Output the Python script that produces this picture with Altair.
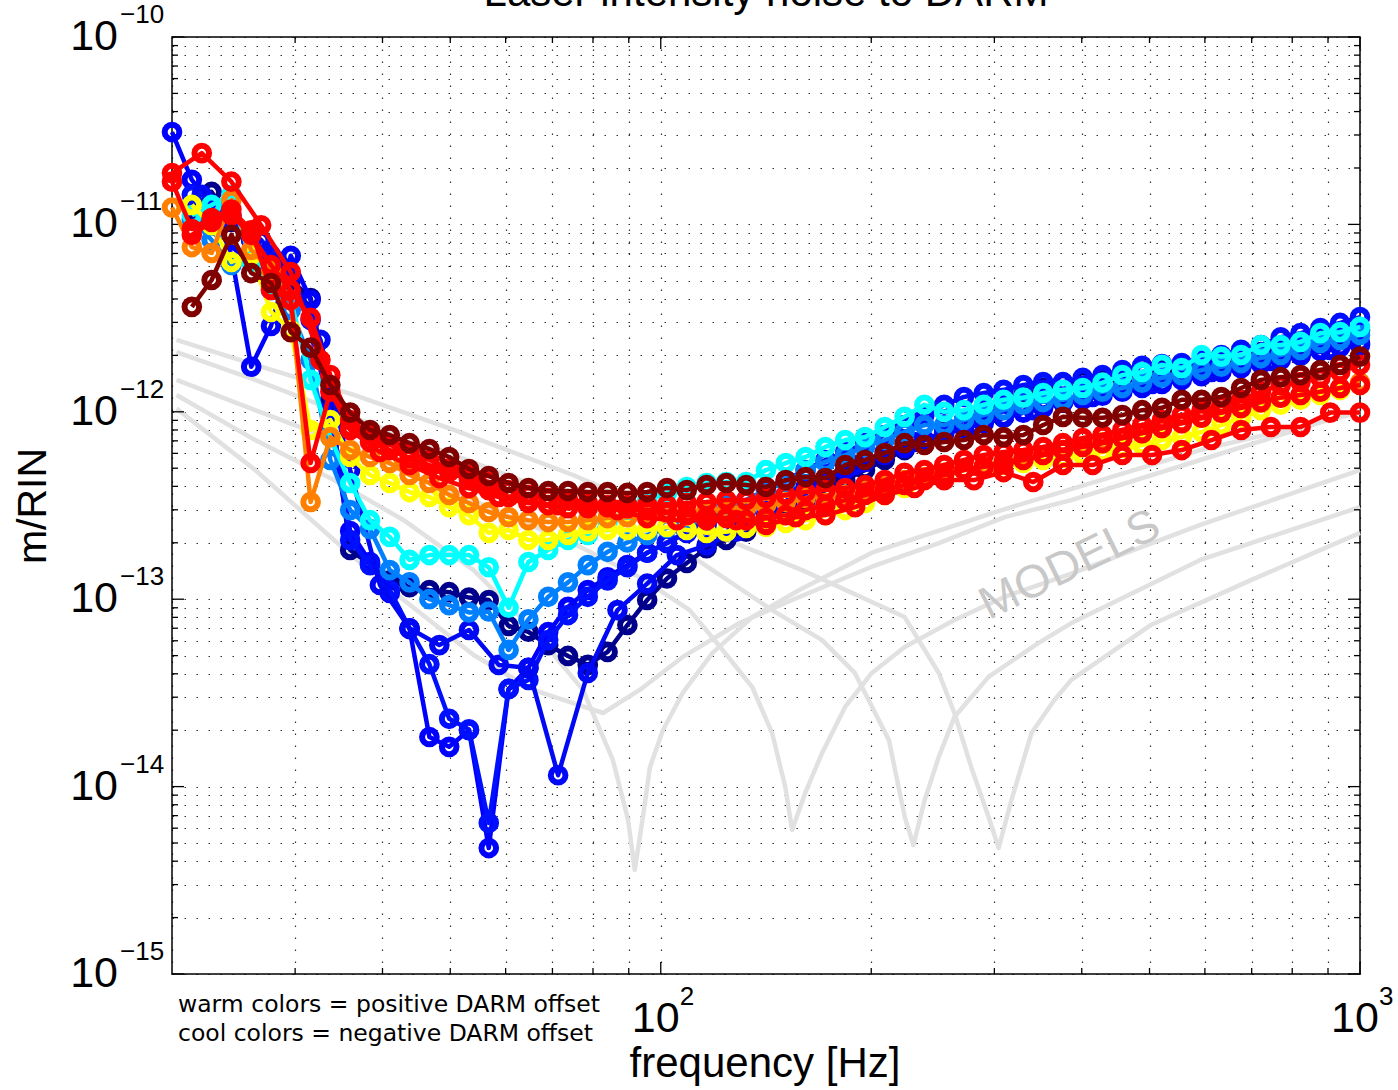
import altair as alt
import pandas as pd

# ---------------- data ----------------
FREQ_A = [20.00, 21.35, 22.79, 24.32, 25.96, 27.71, 29.57, 31.57, 33.69, 35.96,
          38.39, 40.97, 43.73, 46.68, 49.82, 53.18, 56.76, 60.59, 64.67, 69.03,
          73.68, 78.64, 83.94, 89.59, 95.63, 102.07, 108.95, 116.29, 124.12, 132.48,
          141.42, 150.95, 161.11, 171.96, 183.55, 195.91, 209.11, 223.20, 238.23, 254.28,
          271.41, 289.69, 309.21, 330.04, 352.27, 376.00, 401.33, 428.37, 457.22, 488.02,
          520.90, 555.99, 593.44, 633.42, 676.09, 721.63, 770.25, 822.13, 877.51, 936.63, 1000.0]

FREQ_B = [20.00, 22.06, 24.32, 26.82, 29.57, 32.61, 35.96, 39.66, 43.73, 48.23,
          53.18, 58.65, 64.67, 71.32, 78.64, 86.72, 95.63, 105.46, 116.29, 128.24,
          141.42, 155.95, 171.96, 189.63, 209.11, 230.60, 254.28, 280.41, 309.21, 340.98,
          376.01, 414.64, 457.24, 504.22, 556.03, 613.16, 676.16, 745.63, 822.24, 906.72, 1000.0]

NV = [None, 1.2e-11, 1.49e-11, 1.03e-11, 8.25e-12, 6.3e-12, 5.05e-12, 4.05e-12, 1.16e-12, 1.83e-13,
      1.54e-13, 1.26e-13, 1.16e-13, 1.12e-13, 1.09e-13, 1.02e-13, 9.9e-14, 7.2e-14, 6.7e-14, 5.69e-14,
      4.98e-14, 4.46e-14, 5.23e-14, 7.28e-14, 9.9e-14, 1.29e-13, 1.56e-13, 1.87e-13, 2.07e-13, 2.29e-13,
      2.58e-13, 2.92e-13, 3.38e-13, 3.82e-13, 4.32e-13, 4.89e-13, 5.53e-13, 6.25e-13, 7.07e-13, 7.8e-13,
      9.04e-13, 1.02e-12, 1.13e-12, 1.23e-12, 1.34e-12, 1.43e-12, 1.48e-12, 1.48e-12, 1.52e-12, 1.63e-12,
      1.67e-12, 1.71e-12, 1.78e-12, 1.89e-12, 2.01e-12, 2.08e-12, 2.19e-12, 2.27e-12, 2.42e-12, 2.57e-12,
      2.73e-12]

B1 = [3.11e-11, 1.73e-11, 1.27e-11, 6.87e-12, 1.74e-12, 2.87e-12, 6.8e-12, 3.95e-12, 1.02e-12, 2.31e-13,
      1.58e-13, 1.08e-13, 6.93e-14, 1.84e-14, 1.63e-14, 2.0e-14, 4.7e-15, 3.32e-14, 4.3e-14, 6.68e-14,
      9.1e-14, 1.12e-13, 1.31e-13, 1.52e-13, 1.77e-13, 1.99e-13, 2.26e-13, 2.49e-13, 2.74e-13, 2.99e-13,
      3.26e-13, 3.6e-13, 3.97e-13, 4.43e-13, 4.89e-13, 5.4e-13, 5.88e-13, 6.41e-13, 7.07e-13, 7.7e-13,
      8.2e-13, 8.7e-13, 9.3e-13, 9.9e-13, 1.05e-12, 1.12e-12, 1.16e-12, 1.22e-12, 1.28e-12, 1.34e-12,
      1.41e-12, 1.48e-12, 1.55e-12, 1.63e-12, 1.71e-12, 1.8e-12, 1.89e-12, 2.01e-12, 2.11e-12, 2.21e-12,
      2.33e-12]

B2 = [None, 1.44e-11, 1.12e-11, 1.06e-11, 8.25e-12, 6.87e-12, 5.37e-12, 3.09e-12, 9.04e-13, 2.07e-13,
      1.52e-13, 1.12e-13, 7.0e-14, 4.5e-14, 2.3e-14, 2.02e-14, 6.4e-15, 3.32e-14, 3.71e-14, 6.05e-14,
      8.23e-14, 1.03e-13, 1.26e-13, 1.48e-13, 1.77e-13, 2.01e-13, 2.29e-13, 2.64e-13, 2.99e-13, 3.38e-13,
      3.82e-13, 4.32e-13, 4.89e-13, 5.53e-13, 6.1e-13, 6.8e-13, 7.52e-13, 8.5e-13, 9.6e-13, 1.09e-12,
      1.2e-12, 1.26e-12, 1.31e-12, 1.39e-12, 1.44e-12, 1.44e-12, 1.52e-12, 1.57e-12, 1.67e-12, 1.76e-12,
      1.8e-12, 1.82e-12, 1.89e-12, 2.01e-12, 2.14e-12, 2.27e-12, 2.5e-12, 2.63e-12, 2.8e-12, 2.98e-12,
      3.2e-12]

BC = [None, 1.44e-11, 1.12e-11, 8.25e-12, 5.37e-12, 2.42e-12, 4.89e-13, 1.19e-13, 7.0e-14, 5.69e-14,
      6.85e-14, 4.46e-14, 4.3e-14, 1.15e-14, 4.04e-14, 8.75e-14, 1.21e-13, 1.72e-13, 1.94e-13, 2.29e-13,
      2.81e-13, 3.51e-13, 4.32e-13, 5.2e-13, 6.1e-13, 6.9e-13, 7.7e-13, 8.5e-13, 9.3e-13, 1.02e-12,
      1.12e-12, 1.2e-12, 1.31e-12, 1.41e-12, 1.52e-12, 1.63e-12, 1.76e-12, 1.87e-12, 1.99e-12, 2.14e-12,
      2.27e-12]

AZ = [None, 1.06e-11, 8.25e-12, 6.07e-12, 6.87e-12, 4.47e-12, 3.5e-12, 1.89e-12, 5.53e-13, 2.99e-13,
      2.37e-13, 1.43e-13, 1.23e-13, 1.0e-13, 9.3e-14, 8.5e-14, 8.6e-14, 5.36e-14, 7.8e-14, 1.03e-13,
      1.23e-13, 1.52e-13, 1.79e-13, 2.01e-13, 2.2e-13, 2.4e-13, 2.64e-13, 2.92e-13, 3.18e-13, 3.38e-13,
      3.82e-13, 4.22e-13, 4.89e-13, 5.4e-13, 5.88e-13, 6.49e-13, 7.07e-13, 7.8e-13, 8.5e-13, 8.5e-13,
      9.04e-13, 9.6e-13, 1.02e-12, 1.09e-12, 1.13e-12, 1.16e-12, 1.23e-12, 1.28e-12, 1.34e-12, 1.43e-12,
      1.52e-12, 1.57e-12, 1.67e-12, 1.74e-12, 1.82e-12, 1.94e-12, 2.01e-12, 2.14e-12, 2.33e-12, 2.42e-12,
      2.57e-12]

CY = [None, 1.12e-11, 1.27e-11, 1.44e-11, 6.3e-12, 4.75e-12, 3.95e-12, 1.48e-12, 7.33e-13, 4.17e-13,
      2.64e-13, 2.15e-13, 1.62e-13, 1.72e-13, 1.72e-13, 1.72e-13, 1.48e-13, 9.0e-14, 1.58e-13, 1.83e-13,
      2.07e-13, 2.2e-13, 2.58e-13, 2.99e-13, 3.38e-13, 3.69e-13, 3.97e-13, 4.17e-13, 4.22e-13, 4.22e-13,
      4.89e-13, 5.33e-13, 5.74e-13, 6.49e-13, 7.07e-13, 7.33e-13, 8.3e-13, 9.4e-13, 1.09e-12, 1.0e-12,
      1.02e-12, 1.09e-12, 1.16e-12, 1.19e-12, 1.26e-12, 1.31e-12, 1.34e-12, 1.43e-12, 1.57e-12, 1.63e-12,
      1.78e-12, 1.71e-12, 2.01e-12, 1.97e-12, 2.01e-12, 2.27e-12, 2.27e-12, 2.36e-12, 2.63e-12, 2.66e-12,
      2.84e-12]

YE = [None, 1.27e-11, 9.9e-12, 6.3e-12, 6.87e-12, 3.41e-12, 2.73e-12, 8.0e-13, 9.04e-13, 5.74e-13,
      4.6e-13, 4.17e-13, 3.73e-13, 3.51e-13, 3.1e-13, 2.81e-13, 2.26e-13, 2.34e-13, 2.07e-13, 2.07e-13,
      2.2e-13, 2.29e-13, 2.34e-13, 2.34e-13, 2.34e-13, 2.43e-13, 2.34e-13, 2.26e-13, 2.29e-13, 2.4e-13,
      2.43e-13, 2.55e-13, 2.64e-13, 2.81e-13, 2.99e-13, 3.26e-13, 3.6e-13, 3.92e-13, 4.32e-13, 4.6e-13,
      4.89e-13, 5.0e-13, 5.2e-13, 5.33e-13, 5.53e-13, 5.67e-13, 5.88e-13, 6.1e-13, 6.41e-13, 6.65e-13,
      7.07e-13, 7.33e-13, 7.8e-13, 8.5e-13, 9.3e-13, 1.02e-12, 1.09e-12, 1.16e-12, 1.23e-12, 1.31e-12,
      1.39e-12]

OR = [1.23e-11, 7.57e-12, 7.04e-12, 1.35e-11, 7.3e-12, 5.71e-12, 3.95e-12, 3.3e-13, 7.33e-13, 6.25e-13,
      5.74e-13, 5.33e-13, 4.6e-13, 4.17e-13, 3.6e-13, 3.26e-13, 2.92e-13, 2.74e-13, 2.64e-13, 2.58e-13,
      2.58e-13, 2.64e-13, 2.71e-13, 2.74e-13, 2.81e-13, 2.88e-13, 2.92e-13, 2.99e-13, 2.99e-13, 3.06e-13,
      3.18e-13, 3.3e-13, 3.47e-13, 3.6e-13, 3.6e-13, 3.82e-13, 4.07e-13, 4.32e-13, 4.49e-13, 4.72e-13,
      4.89e-13, 5.14e-13, 5.4e-13, 5.67e-13, 5.88e-13, 6.25e-13, 6.57e-13, 6.9e-13, 7.24e-13, 7.7e-13,
      8.2e-13, 8.7e-13, 9.3e-13, 9.9e-13, 1.05e-12, 1.12e-12, 1.19e-12, 1.23e-12, 1.28e-12, 1.34e-12,
      1.43e-12]

RB = [1.88e-11, 2.4e-11, 1.69e-11, 9.9e-12, 5.57e-12, 1.89e-12, 8.0e-13, 6.1e-13, 5.2e-13, 4.43e-13,
      3.92e-13, 3.51e-13, 3.26e-13, 3.18e-13, 3.18e-13, 2.99e-13, 2.71e-13, 2.64e-13, 2.64e-13, 2.64e-13,
      2.49e-13, 2.74e-13, 2.81e-13, 3.1e-13, 3.6e-13, 3.92e-13, 4.32e-13, 4.32e-13, 4.77e-13, 4.22e-13,
      5.2e-13, 5.2e-13, 5.88e-13, 5.88e-13, 6.25e-13, 7.07e-13, 8.0e-13, 8.3e-13, 8.3e-13, 9.9e-13,
      9.9e-13]

RA = [1.69e-11, 9.45e-12, 1.08e-11, 1.2e-11, 9.3e-12, 4.47e-12, 3.95e-12, 5.33e-13, 1.28e-12, 8.2e-13,
      6.9e-13, 6.25e-13, 5.67e-13, 5.2e-13, 4.77e-13, 4.32e-13, 3.82e-13, 3.51e-13, 3.3e-13, 3.18e-13,
      3.06e-13, 3.06e-13, 3.1e-13, 3.18e-13, 3.18e-13, 3.18e-13, 3.26e-13, 3.3e-13, 3.38e-13, 3.38e-13,
      3.47e-13, 3.6e-13, 3.73e-13, 3.82e-13, 3.92e-13, 4.07e-13, 4.32e-13, 4.72e-13, 4.89e-13, 5.2e-13,
      5.53e-13, 5.88e-13, 6.1e-13, 6.25e-13, 6.49e-13, 6.8e-13, 7.24e-13, 7.52e-13, 8.0e-13, 8.5e-13,
      9.04e-13, 9.6e-13, 1.02e-12, 1.09e-12, 1.16e-12, 1.28e-12, 1.39e-12, 1.44e-12, 1.52e-12, 1.63e-12,
      1.78e-12]

RC = [None, 8.8e-12, 1.03e-11, 1.12e-11, 8.8e-12, 6.07e-12, 4.47e-12, 3.17e-12, 1.57e-12, 9.04e-13,
      7.52e-13, 6.65e-13, 6.1e-13, 5.53e-13, 5.0e-13, 4.6e-13, 4.22e-13, 3.82e-13, 3.6e-13, 3.47e-13,
      3.38e-13, 3.26e-13, 3.18e-13, 3.06e-13, 2.99e-13, 2.92e-13, 2.81e-13, 2.74e-13, 2.71e-13, 2.64e-13,
      2.71e-13, 2.81e-13, 2.99e-13, 3.18e-13, 3.38e-13, 3.6e-13, 3.82e-13, 4.07e-13, 4.32e-13, 4.6e-13,
      4.89e-13, 5.07e-13, 5.33e-13, 5.53e-13, 5.88e-13, 6.25e-13, 6.49e-13, 6.8e-13, 7.24e-13, 7.7e-13,
      8.2e-13, 8.7e-13, 9.3e-13, 9.9e-13, 1.05e-12, 1.13e-12, 1.19e-12, 1.23e-12, 1.28e-12, 1.34e-12,
      1.39e-12]

DR = [None, 3.63e-12, 5.05e-12, 8.8e-12, 5.5e-12, 4.87e-12, 2.66e-12, 2.2e-12, 1.39e-12, 9.9e-13,
      8.0e-13, 7.52e-13, 6.8e-13, 6.33e-13, 5.74e-13, 4.95e-13, 4.54e-13, 4.17e-13, 3.92e-13, 3.78e-13,
      3.78e-13, 3.73e-13, 3.73e-13, 3.69e-13, 3.73e-13, 3.92e-13, 3.82e-13, 4.07e-13, 4.17e-13, 4.07e-13,
      3.97e-13, 4.32e-13, 4.49e-13, 4.43e-13, 5.2e-13, 5.53e-13, 6.03e-13, 6.8e-13, 6.65e-13, 6.9e-13,
      7.07e-13, 7.52e-13, 7.33e-13, 7.52e-13, 8.5e-13, 9.4e-13, 9.3e-13, 9.3e-13, 9.6e-13, 1.02e-12,
      1.05e-12, 1.16e-12, 1.16e-12, 1.2e-12, 1.34e-12, 1.48e-12, 1.53e-12, 1.57e-12, 1.67e-12, 1.78e-12,
      1.97e-12]

# model curves (grey)
M1_F = [20.3, 26.3, 34.1, 42.9, 54.0, 65.7, 74.9, 82.7, 93.3, 107.5, 129.6, 154.1, 200.4, 250.0, 310.3,
        386.5, 591, 1000]
M1_V = [1.04e-12, 4.89e-13, 2.07e-13, 9.9e-14, 5.04e-14, 3.28e-14, 2.79e-14, 2.47e-14, 3.28e-14, 4.92e-14,
        7.46e-14, 9.9e-14, 1.49e-13, 1.99e-13, 2.74e-13, 3.38e-13, 5.53e-13, 1.02e-12]
M2_F = [20.3, 26.3, 34.1, 42.9, 54.0, 65.7, 77.4, 85.4, 89.8, 91.8, 94.3, 96.5, 100.7, 107.5, 118.6, 135.2,
        157.8, 200.4, 307.3, 426, 591, 1000]
M2_V = [1.23e-12, 7.07e-13, 4.32e-13, 2.64e-13, 1.43e-13, 6.85e-14, 3.28e-14, 1.39e-14, 6.64e-15, 3.59e-15,
        6.89e-15, 1.27e-14, 2.0e-14, 3.16e-14, 5.17e-14, 8.03e-14, 1.12e-13, 1.77e-13, 2.99e-13, 4.32e-13,
        6.25e-13, 9.9e-13]
M3_F = [20.3, 26.3, 34.1, 42.9, 55.8, 74.9, 93.3, 110, 122.6, 135.2, 144.3, 150.7, 154.1, 160.9, 170.1,
        183.5, 200.4, 223.3, 263, 310.3, 386.5, 591, 1000]
M3_V = [1.48e-12, 1.02e-12, 7.07e-13, 4.89e-13, 3.18e-13, 1.99e-13, 1.31e-13, 8.75e-14, 5.36e-14, 3.39e-14,
        1.93e-14, 9.95e-15, 5.87e-15, 9.25e-15, 1.51e-14, 2.66e-14, 4.04e-14, 5.56e-14, 7.74e-14, 1.03e-13,
        1.37e-13, 2.49e-13, 4.89e-13]
M4_F = [20.3, 26.3, 34.1, 50.6, 74.9, 107.5, 144.3, 170.1, 189.5, 212, 223.3, 229.8, 238.5, 249.8, 263,
        294.3, 346.6, 386.5, 591, 1000]
M4_V = [2.08e-12, 1.48e-12, 1.02e-12, 5.88e-13, 3.38e-13, 1.83e-13, 8.75e-14, 6.05e-14, 4.04e-14, 1.77e-14,
        6.89e-15, 4.88e-15, 8.49e-15, 1.44e-14, 2.35e-14, 3.85e-14, 5.83e-14, 7.46e-14, 1.62e-13, 3.1e-13]
M5_F = [20.3, 26.3, 36.4, 50.6, 74.9, 114.8, 159.3, 223.3, 249.8, 263, 278, 294.3, 304.2, 317.4, 339,
        365.5, 386.5, 502, 697, 1000]
M5_V = [2.42e-12, 1.78e-12, 1.23e-12, 8.0e-13, 4.6e-13, 2.34e-13, 1.43e-13, 8.03e-14, 4.04e-14, 2.47e-14,
        1.27e-14, 6.89e-15, 4.7e-15, 8.49e-15, 1.93e-14, 2.9e-14, 3.71e-14, 7.28e-14, 1.26e-13, 2.26e-13]

X_GRID = [20, 30, 40, 50, 60, 70, 80, 90, 100, 200, 300, 400, 500, 600, 700, 800, 900, 1000]
X_MAJOR = [100, 1000]
X_MINOR = [30, 40, 50, 60, 70, 80, 90, 200, 300, 400, 500, 600, 700, 800, 900]
Y_MAJOR = [1e-15, 1e-14, 1e-13, 1e-12, 1e-11, 1e-10]
Y_MINOR = [m * d for d in [1e-15, 1e-14, 1e-13, 1e-12, 1e-11] for m in range(2, 10)]
Y_GRID = sorted(Y_MAJOR + Y_MINOR)
Y_EXP = ["\u221210", "\u221211", "\u221212", "\u221213", "\u221214", "\u221215"]
X_EXP = ["2", "3"]

# ---------------- chart ----------------
W, H = 1188, 937
FONT = "Liberation Sans"
XS = alt.Scale(type="log", domain=[20, 1000], nice=False)
YS = alt.Scale(type="log", domain=[1e-15, 1e-10], nice=False)
GRID = dict(grid=True, gridColor="#000000", gridDash=[1.5, 10.5], gridWidth=1.2, gridOpacity=0.8,
            ticks=False, labels=False, domain=False, title=None)
XAX = alt.Axis(values=X_GRID, **GRID)
YAX = alt.Axis(values=Y_GRID, **GRID)


def xenc(field):
    return alt.X(f"{field}:Q", scale=XS, axis=XAX)


def yenc(field):
    return alt.Y(f"{field}:Q", scale=YS, axis=YAX)


layers = []

# grey model curves
mod_frames = []
for k, (fs, vs) in enumerate([(M1_F, M1_V), (M2_F, M2_V), (M3_F, M3_V), (M4_F, M4_V), (M5_F, M5_V)]):
    mod_frames.append(pd.DataFrame({"f": fs, "v": vs, "curve": f"m{k}", "ord": range(len(fs))}))
models = pd.concat(mod_frames, ignore_index=True)
layers.append(
    alt.Chart(models).mark_line(color="#e1e1e1", strokeWidth=4.5, strokeJoin="round")
    .encode(x=xenc("f"), y=yenc("v"), detail="curve:N", order="ord:Q")
)

# inward ticks
ymaj = pd.DataFrame({"v": Y_MAJOR})
ymin = pd.DataFrame({"v": Y_MINOR})
xmaj = pd.DataFrame({"f": X_MAJOR})
xmin = pd.DataFrame({"f": X_MINOR})
for df, L in [(ymaj, 12), (ymin, 6)]:
    layers.append(alt.Chart(df).mark_rule(color="black", strokeWidth=1.3)
                  .encode(y=yenc("v"), x=alt.value(0), x2=alt.value(L)))
    layers.append(alt.Chart(df).mark_rule(color="black", strokeWidth=1.3)
                  .encode(y=yenc("v"), x=alt.value(W - L), x2=alt.value(W)))
for df, L in [(xmaj, 12), (xmin, 6)]:
    layers.append(alt.Chart(df).mark_rule(color="black", strokeWidth=1.3)
                  .encode(x=xenc("f"), y=alt.value(H - L), y2=alt.value(H)))
    layers.append(alt.Chart(df).mark_rule(color="black", strokeWidth=1.3)
                  .encode(x=xenc("f"), y=alt.value(0), y2=alt.value(L)))

# measured series
SERIES = [
    ("navy", "#00008C", FREQ_A, NV),
    ("blue1", "#0000FF", FREQ_A, B1),
    ("blue2", "#0010FF", FREQ_A, B2),
    ("blue3", "#0008F4", FREQ_B, BC),
    ("azure", "#0080FF", FREQ_A, AZ),
    ("cyan", "#00FFFF", FREQ_A, CY),
    ("yellow", "#FFFF00", FREQ_A, YE),
    ("orange", "#FF8000", FREQ_A, OR),
    ("red2", "#FF0000", FREQ_B, RB),
    ("red1", "#FF0000", FREQ_A, RA),
    ("red3", "#FF0000", FREQ_A, RC),
    ("darkred", "#800000", FREQ_A, DR),
]
for name, color, fs, vs in SERIES:
    df = pd.DataFrame({"f": list(fs)[:len(vs)], "v": vs}).dropna()
    base = alt.Chart(df).encode(x=xenc("f"), y=yenc("v"))
    layers.append(base.mark_line(color=color, strokeWidth=4.5, strokeJoin="round"))
    layers.append(base.mark_point(shape="circle", filled=False, color=color, size=215,
                                  strokeWidth=6, opacity=1))

# tick labels
ylab = pd.DataFrame({"v": Y_MAJOR[::-1], "e": Y_EXP})
layers.append(alt.Chart(ylab).mark_text(align="right", baseline="middle", font=FONT, fontSize=43,
                                        color="black")
              .encode(y=yenc("v"), x=alt.value(-54), text=alt.value("10")))
layers.append(alt.Chart(ylab).mark_text(align="left", baseline="middle", font=FONT, fontSize=26,
                                        color="black", dy=-22)
              .encode(y=yenc("v"), x=alt.value(-52), text="e:N"))
xlab = pd.DataFrame({"f": X_MAJOR, "e": X_EXP})
layers.append(alt.Chart(xlab).mark_text(align="center", baseline="middle", font=FONT, fontSize=43,
                                        color="black", dx=-5)
              .encode(x=xenc("f"), y=alt.value(H + 45), text=alt.value("10")))
layers.append(alt.Chart(xlab).mark_text(align="left", baseline="middle", font=FONT, fontSize=26,
                                        color="black", dx=19)
              .encode(x=xenc("f"), y=alt.value(H + 23), text="e:N"))


def label(text, x, y, **kw):
    return alt.Chart(pd.DataFrame({"t": [text]})).mark_text(**kw).encode(
        x=alt.value(x), y=alt.value(y), text="t:N")


layers.append(label("Laser intensity noise to DARM", W / 2, -31, font=FONT, fontSize=42,
                    align="center", baseline="alphabetic", color="black"))
layers.append(label("m/RIN", -138, 469, font=FONT, fontSize=41, angle=270,
                    align="center", baseline="middle", color="black"))
layers.append(label("frequency [Hz]", 593, 1040, font=FONT, fontSize=42,
                    align="center", baseline="alphabetic", color="black"))
layers.append(label("warm colors = positive DARM offset", 6, 975, font="DejaVu Sans", fontSize=23.5,
                    align="left", baseline="alphabetic", color="black"))
layers.append(label("cool colors = negative DARM offset", 6, 1004, font="DejaVu Sans", fontSize=23.5,
                    align="left", baseline="alphabetic", color="black"))
layers.append(label("MODELS", 898, 528, font=FONT, fontSize=46, angle=334,
                    align="center", baseline="middle", color="#c8c8c8"))

chart = alt.layer(*layers).properties(
    width=W, height=H,
    autosize=alt.AutoSizeParams(type="none"),
    padding={"left": 172, "top": 37, "right": 38, "bottom": 116},
).configure_view(stroke="black", strokeWidth=1.5)

chart.save("out.html", embed_options={"renderer": "svg", "actions": False})
